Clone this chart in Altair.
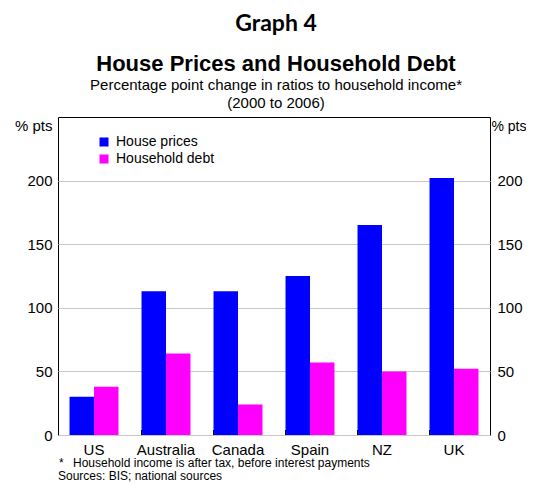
import altair as alt
import pandas as pd

countries = ["US", "Australia", "Canada", "Spain", "NZ", "UK"]
series = ["House prices", "Household debt"]
house_prices = [30, 113, 113, 125, 165, 202]
household_debt = [38, 64, 24, 57, 50, 52]
colors = ["#0000ff", "#ff00ff"]
y_ticks = [0, 50, 100, 150, 200]

title_lines = ["Graph 4", "House Prices and Household Debt",
               "Percentage point change in ratios to household income*",
               "(2000 to 2006)"]
footnote_mark = "*"
footnotes = ["Household income is after tax, before interest payments",
             "Sources: BIS; national sources"]

rows = []
for c, h, d in zip(countries, house_prices, household_debt):
    rows.append({"country": c, "series": series[0], "value": h})
    rows.append({"country": c, "series": series[1], "value": d})
df = pd.DataFrame(rows)

W, H = 432, 318
FONT = "Liberation Sans"

x_scale = alt.Scale(domain=countries, paddingInner=0.32, paddingOuter=0.16)
x_axis = alt.Axis(title=None, labelFontSize=15, labelFont=FONT, labelColor="black",
                  ticks=False, domain=False, labelPadding=7, labelAngle=0)
y_scale = alt.Scale(domain=[0, 250], nice=False)

bars = alt.Chart(df).mark_bar().encode(
    x=alt.X("country:N", sort=countries, scale=x_scale, axis=x_axis),
    xOffset=alt.XOffset("series:N", sort=series,
                        scale=alt.Scale(paddingInner=0, paddingOuter=0)),
    y=alt.Y("value:Q", scale=y_scale,
            axis=alt.Axis(values=y_ticks, grid=True, gridColor="#c8c8c8",
                          ticks=False, domain=False, labelFontSize=15, labelFont=FONT,
                          labelColor="black", labelPadding=6,
                          title="% pts", titleAngle=0, titleAlign="right",
                          titleBaseline="alphabetic", titleX=-6, titleY=13,
                          titleFontSize=15, titleFont=FONT, titleFontWeight="normal",
                          titleColor="black")),
    color=alt.Color("series:N", sort=series,
                    scale=alt.Scale(domain=series, range=colors),
                    legend=alt.Legend(title=None, orient="none", legendX=39, legendY=18,
                                      symbolType="square", symbolSize=81,
                                      symbolStrokeWidth=0, labelFontSize=14,
                                      labelFont=FONT, labelColor="black",
                                      rowPadding=3, padding=0, labelOffset=5)),
)

right_axis = alt.Chart(df).mark_bar(opacity=0).encode(
    x=alt.X("country:N", sort=countries, scale=x_scale, axis=x_axis),
    y=alt.Y("value:Q", scale=y_scale,
            axis=alt.Axis(orient="right", values=y_ticks, grid=False,
                          ticks=False, domain=False, labelFontSize=15, labelFont=FONT,
                          labelColor="black", labelPadding=7,
                          title="% pts", titleAngle=0, titleAlign="left",
                          titleBaseline="alphabetic", titleX=1, titleY=13,
                          titleFontSize=14, titleFont=FONT, titleFontWeight="normal",
                          titleColor="black")),
)

tick_df = pd.DataFrame({"country": countries[1:]})
xticks = alt.Chart(tick_df).mark_rule(color="black", strokeWidth=1).encode(
    x=alt.X("country:N", sort=countries, scale=x_scale, axis=x_axis, bandPosition=0),
    y=alt.value(H),
    y2=alt.value(H - 5),
)


def text_layer(txt, x, y, size, weight="normal", align="center", font=FONT):
    return alt.Chart(pd.DataFrame({"t": [txt]})).mark_text(
        font=font, fontSize=size, fontWeight=weight, align=align,
        baseline="alphabetic", color="black"
    ).encode(text="t:N", x=alt.value(x), y=alt.value(y))


cx = 218
texts = [
    text_layer(title_lines[0], cx, -86, 23, "bold", font="Lato"),
    text_layer(title_lines[1], cx, -46, 22, "bold"),
    text_layer(title_lines[2], cx, -27, 15),
    text_layer(title_lines[3], cx, -9, 15),
    text_layer(footnote_mark, 1, 350, 12, align="left"),
    text_layer(footnotes[0], 15, 350, 12, align="left"),
    text_layer(footnotes[1], 0, 363, 12, align="left"),
]

chart = alt.layer(bars, right_axis, xticks, *texts).resolve_scale(
    y="independent"
).properties(
    width=W, height=H,
    autosize=alt.AutoSizeParams(type="none"),
    padding={"left": 50, "top": 109, "right": 36, "bottom": 47},
).configure_view(stroke="black", strokeWidth=1)

chart.save("out.html", embed_options={"renderer": "svg", "actions": False})
